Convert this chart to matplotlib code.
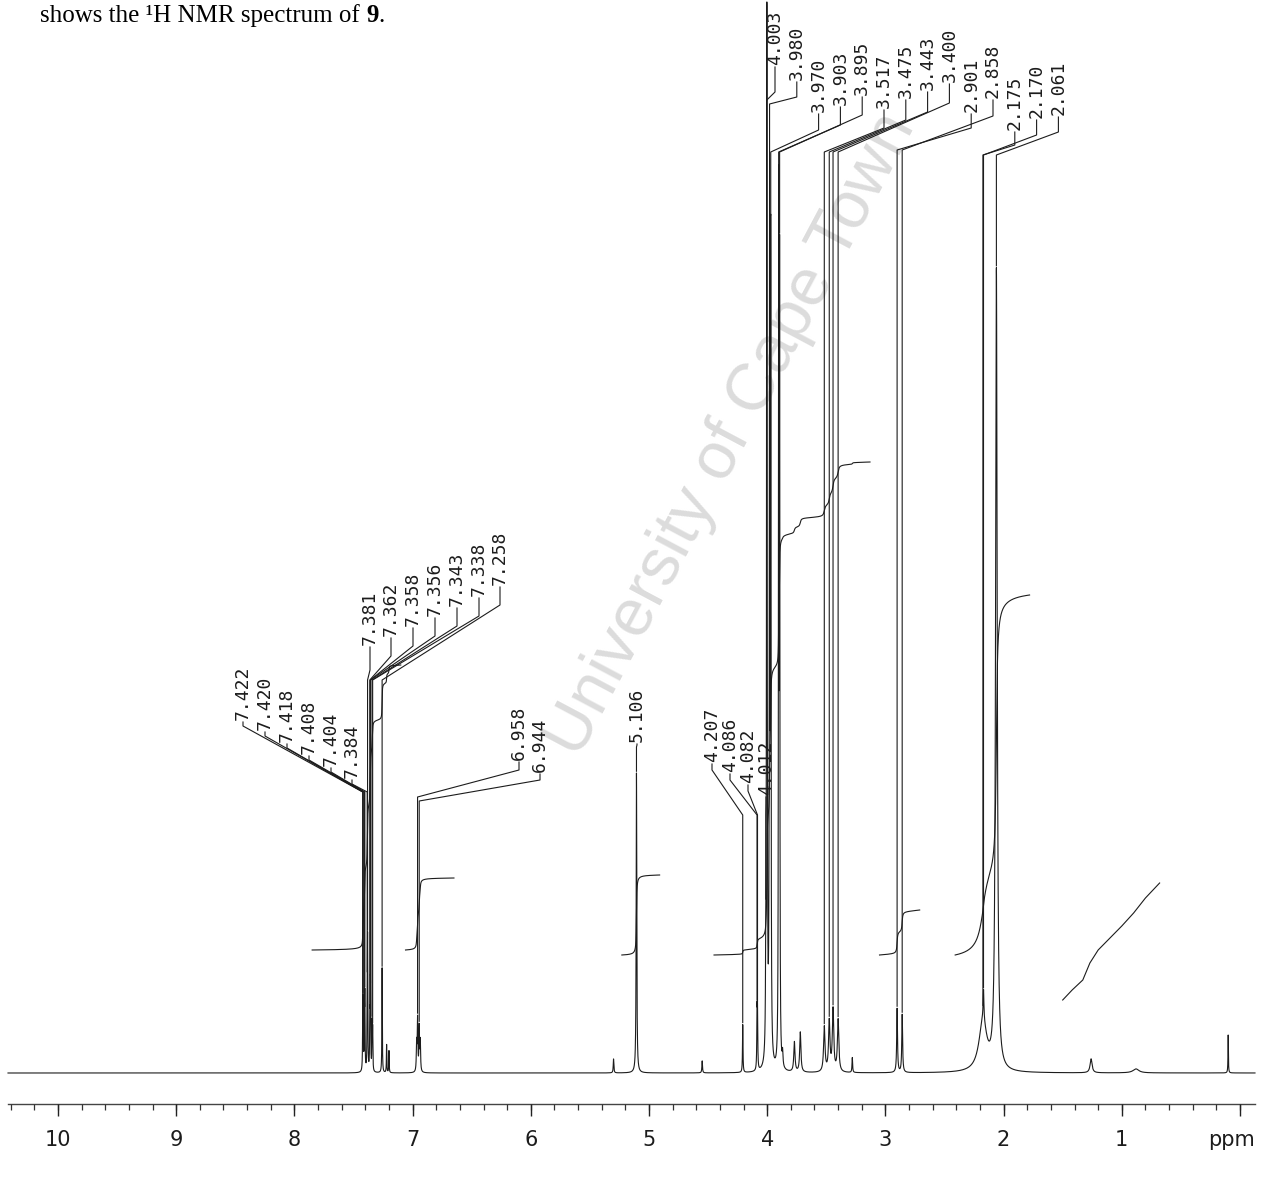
import numpy as np
import matplotlib.pyplot as plt

# ---- data ----
peak_ppm = [7.422, 7.420, 7.418, 7.408, 7.404, 7.384, 7.381, 7.362, 7.358, 7.356,
            7.343, 7.338, 7.258, 7.220, 7.200,
            6.966, 6.958, 6.944, 6.935,
            5.300, 5.106,
            4.550, 4.207, 4.086, 4.082, 4.012, 4.003, 3.980, 3.970, 3.903, 3.895,
            3.870, 3.770, 3.720,
            3.517, 3.475, 3.443, 3.400, 3.280,
            2.901, 2.858, 2.175, 2.170, 2.061,
            1.260, 0.880, 0.100]
peak_height = [35, 40, 36, 55, 70, 60, 120, 48, 58, 52,
               46, 40, 105, 28, 22,
               28, 52, 44, 30,
               14, 300,
               12, 48, 55, 52, 70, 1300, 850, 800, 850, 780,
               14, 30, 40,
               45, 50, 62, 52, 15,
               64, 58, 50, 30, 800,
               14, 4, 38]
peak_width = [0.002] * 15 + [0.003] * 4 + [0.003, 0.003] + \
             [0.003, 0.0024, 0.0024, 0.0024, 0.0024, 0.0025, 0.0025, 0.0025, 0.0022, 0.0022] + \
             [0.004, 0.006, 0.006] + [0.007, 0.007, 0.007, 0.007, 0.003] + \
             [0.004, 0.004, 0.04, 0.004, 0.008] + [0.01, 0.03, 0.002]

# labelled peak groups
grp_arom1 = ['7.422', '7.420', '7.418', '7.408', '7.404', '7.384']
grp_arom2 = ['7.381', '7.362', '7.358', '7.356', '7.343', '7.338', '7.258']
grp_arom3 = ['6.958', '6.944']
grp_bn = ['5.106']
grp_42 = ['4.207', '4.086', '4.082', '4.012']
grp_top = ['4.003', '3.980', '3.970', '3.903', '3.895', '3.517', '3.475', '3.443',
           '3.400', '2.901', '2.858', '2.175', '2.170', '2.061']

# integral regions: (from ppm, to ppm, start level, end level) in page pixels
integrals = [(7.85, 7.10, 950, 665),
             (7.06, 6.65, 950, 878),
             (5.23, 4.91, 955, 875),
             (4.45, 3.13, 955, 462),
             (3.05, 2.71, 955, 910),
             (2.41, 1.78, 955, 595)]
grease_ppm = [1.50, 1.42, 1.33, 1.27, 1.20, 1.10, 1.00, 0.90, 0.80, 0.68]
grease_lvl = [1000, 990, 980, 963, 950, 938, 926, 913, 898, 883]

major_ticks = list(range(0, 11))
major_labels = ['ppm', '1', '2', '3', '4', '5', '6', '7', '8', '9', '10']

# ---- page geometry ----
W, H = 1261, 1177
BASE = 1073           # pixel row of spectrum baseline
X10, PXPPM = 58, 118.2


def ppm_at(x):
    return 10 - (x - X10) / PXPPM


def yy(y):
    return BASE - y


fig = plt.figure(figsize=(W / 100, H / 100), dpi=100)
ax = fig.add_axes([0, 0, 1, 1])
ax.set_xlim(ppm_at(0), ppm_at(W))
ax.set_ylim(BASE - H, BASE)
ax.axis('off')

ink = '#1c1c1c'
mono = 'DejaVu Sans Mono'

# watermark
ax.text(ppm_at(732), yy(435), 'University of Cape Town', rotation=62,
        ha='center', va='center', fontsize=48, color='#dcdcdc',
        family='Liberation Sans', zorder=0)

# spectrum
x = np.linspace(ppm_at(8), ppm_at(1255), 30000)
p = np.array(peak_ppm)[:, None]
h = np.array(peak_height)[:, None]
w = np.array(peak_width)[:, None]
spec = (h / (1 + ((x - p) / w) ** 2)).sum(axis=0)
ax.plot(x, np.minimum(spec, BASE - 2), color=ink, lw=0.8, zorder=3)

# integrals
for a, b, y0, y1 in integrals:
    m = (x <= a) & (x >= b)
    c = np.cumsum(spec[m])
    ax.plot(x[m], yy(y0 + (y1 - y0) * c / c[-1]), color=ink, lw=0.8, zorder=3)
ax.plot(grease_ppm, [yy(v) for v in grease_lvl], color=ink, lw=0.8, zorder=3)


def height_at(v):
    return np.interp(-v, -x, spec)


def draw_group(labels, xs, bottoms, elb1, elb2):
    for lab, lx, bt, e1, e2 in zip(labels, xs, bottoms, elb1, elb2):
        pk = float(lab)
        top = min(height_at(pk), BASE - 2)
        ax.text(ppm_at(lx), yy(bt), lab, rotation=90, ha='center', va='bottom',
                fontsize=13, family=mono, color=ink)
        px = [ppm_at(lx), ppm_at(lx), pk, pk]
        py = [yy(bt + 2), yy(e1), yy(e2), min(top + 2, yy(e2))]
        ax.plot(px, py, color=ink, lw=0.8, zorder=3)


draw_group(grp_top, [775 + 21.8 * i for i in range(14)],
           [65, 80, 112, 105, 95, 108, 98, 90, 82, 112, 98, 130, 118, 115],
           [92, 97, 130, 125, 115, 128, 120, 112, 103, 128, 116, 145, 135, 132],
           [100, 104, 152, 152, 152, 152, 152, 152, 152, 150, 150, 155, 155, 155])
draw_group(grp_arom2, [370, 391, 413, 435, 457, 479, 500],
           [645, 636, 626, 616, 606, 596, 585],
           [670, 656, 646, 636, 626, 616, 605],
           [680] * 7)
draw_group(grp_arom1, [243, 265, 287, 309, 331, 352],
           [720, 730, 742, 754, 766, 778],
           [726, 736, 748, 760, 772, 784],
           [792] * 6)
draw_group(grp_arom3, [519, 540], [760, 772], [770, 780], [797, 801])
draw_group(grp_bn, [637], [742], [745], [747])
draw_group(grp_42, [712, 730, 748, 766], [762, 772, 783, 795],
           [770, 780, 791, 803], [815] * 4)

# ppm scale
AX_Y = 1104
ax.plot([ppm_at(8), ppm_at(1255)], [yy(AX_Y)] * 2, color='#444', lw=1.0)
minor = np.arange(-0.0, 10.41, 0.2)
ax.vlines(minor, yy(AX_Y + 6), yy(AX_Y), color='#333', lw=0.9)
ax.vlines(major_ticks, yy(AX_Y + 12), yy(AX_Y), color='#222', lw=1.0)
for t, lab in zip(major_ticks, major_labels):
    xt = t if lab != 'ppm' else ppm_at(1232)
    ax.text(xt, yy(1140), lab, ha='center', va='center', fontsize=15,
            family='DejaVu Sans', color=ink)

# line of running text above the figure
TY = 1 - 22 / H
t1 = fig.text(40 / W, TY, 'shows the \u00b9H NMR spectrum of ',
              family='Liberation Serif', fontsize=18, va='baseline', ha='left')
fig.canvas.draw()
bb = t1.get_window_extent()
t2 = fig.text(bb.x1 / W, TY, '9', family='Liberation Serif',
              fontsize=18, weight='bold', va='baseline', ha='left')
fig.canvas.draw()
bb2 = t2.get_window_extent()
fig.text(bb2.x1 / W, TY, '.', family='Liberation Serif',
         fontsize=18, va='baseline', ha='left')

fig.savefig('out.png', dpi=100)
